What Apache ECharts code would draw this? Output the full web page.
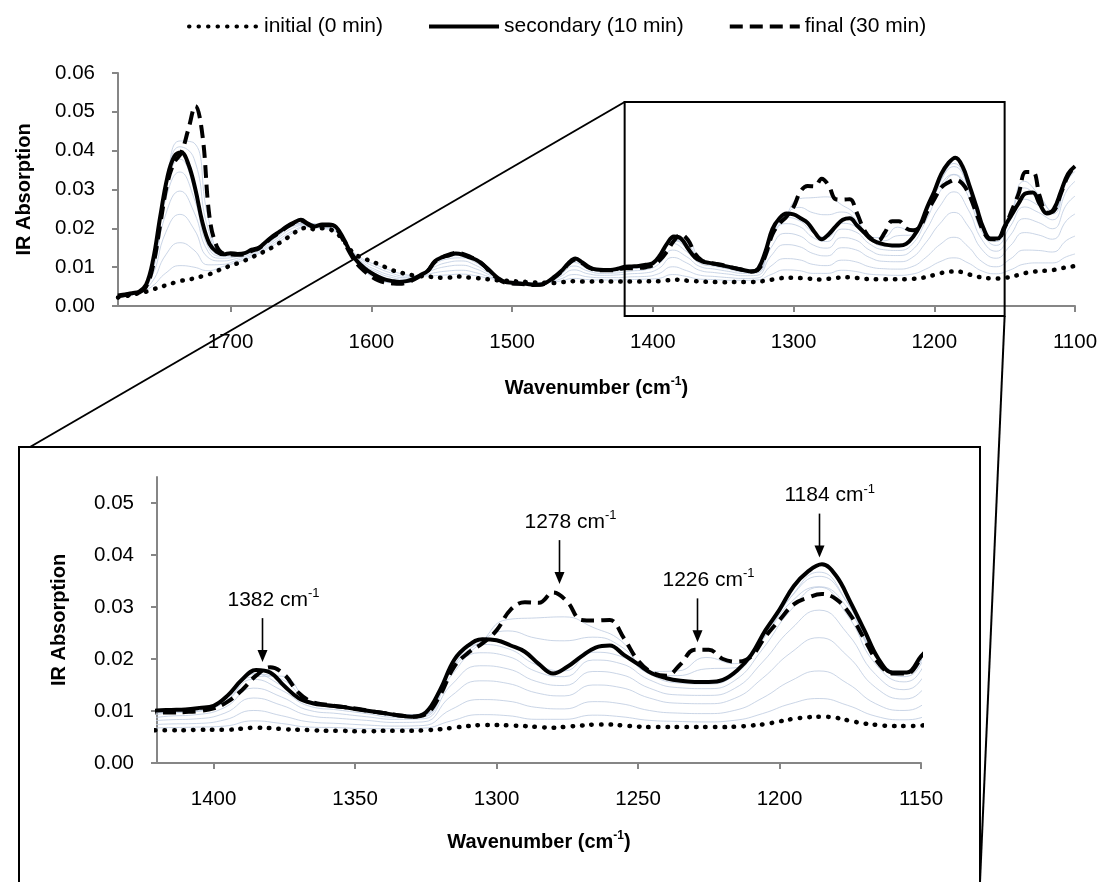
<!DOCTYPE html>
<html>
<head>
<meta charset="utf-8">
<title>IR spectra</title>
<script src="https://cdn.jsdelivr.net/npm/echarts@6/dist/echarts.min.js"></script>
<style>
  html, body { margin: 0; padding: 0; background: #fff; }
  #main { width: 1101px; height: 882px; }
</style>
</head>
<body>
<div id="main"></div>
<script>
// wavenumbers (cm-1) for the three main spectra
var wave = [1780,1775,1770,1765,1760,1755,1750,1745,1740,1735,1730,1725,1720,1715,1710,1705,1700,1695,1690,1685,
  1680,1675,1670,1665,1660,1655,1650,1645,1640,1635,1630,1625,1620,1615,1610,1605,1600,1595,1590,1585,
  1580,1575,1570,1565,1560,1555,1550,1545,1540,1535,1530,1525,1520,1515,1510,1505,1500,1495,1490,1485,
  1480,1475,1470,1465,1460,1455,1450,1445,1440,1435,1430,1425,1420,1415,1410,1405,1400,1395,1390,1385,
  1380,1375,1370,1365,1360,1355,1350,1345,1340,1335,1330,1325,1320,1315,1310,1305,1300,1295,1290,1285,
  1280,1275,1270,1265,1260,1255,1250,1245,1240,1235,1230,1225,1220,1215,1210,1205,1200,1195,1190,1185,
  1180,1175,1170,1165,1160,1155,1150,1145,1140,1135,1130,1125,1120,1115,1110,1105,1100];

var initial = [.0022,.0025,.0029,.0033,.0037,.0043,.0048,.0055,.0060,.0065,.0068,.0072,.0077,.0082,.0090,.0097,.0104,.0110,.0117,.0125,
  .0134,.0142,.0152,.0163,.0175,.0188,.0198,.0202,.0197,.0200,.0198,.0188,.0170,.0145,.0130,.0122,.0115,.0108,.0100,.0092,
  .0087,.0082,.0079,.0077,.0076,.0074,.0073,.0073,.0076,.0075,.0073,.0072,.0070,.0068,.0066,.0065,.0064,.0063,.0062,.0061,
  .0060,.0060,.0059,.0061,.0063,.0064,.0063,.0063,.0064,.0064,.0063,.0063,.0063,.0063,.0063,.0064,.0064,.0064,.0066,.0068,
  .0067,.0065,.0064,.0063,.0062,.0062,.0061,.0061,.0062,.0062,.0062,.0063,.0065,.0068,.0071,.0073,.0073,.0072,.0071,.0069,
  .0068,.0070,.0072,.0074,.0074,.0072,.0070,.0069,.0069,.0069,.0069,.0069,.0069,.0070,.0072,.0075,.0080,.0085,.0088,.0089,
  .0087,.0081,.0076,.0073,.0071,.0071,.0072,.0076,.0080,.0085,.0088,.0090,.0091,.0093,.0097,.0100,.0103];

var secondary = [.0027,.0030,.0033,.0037,.0055,.0120,.0230,.0330,.0385,.0395,.0365,.0300,.0215,.0160,.0140,.0133,.0136,.0134,.0136,.0145,
  .0150,.0165,.0180,.0192,.0205,.0215,.0222,.0212,.0205,.0210,.0210,.0203,.0175,.0140,.0115,.0098,.0085,.0075,.0068,.0064,
  .0062,.0064,.0070,.0080,.0090,.0115,.0125,.0130,.0135,.0132,.0125,.0118,.0105,.0088,.0072,.0062,.0060,.0058,.0057,.0055,
  .0055,.0062,.0075,.0090,.0110,.0122,.0112,.0100,.0094,.0093,.0093,.0096,.0101,.0102,.0103,.0106,.0110,.0130,.0160,.0179,
  .0174,.0148,.0125,.0115,.0111,.0108,.0104,.0100,.0096,.0092,.0089,.0097,.0140,.0198,.0226,.0238,.0236,.0226,.0214,.0190,
  .0172,.0185,.0205,.0222,.0226,.0208,.0190,.0172,.0163,.0158,.0156,.0156,.0160,.0178,.0208,.0255,.0295,.0340,.0368,.0382,
  .0360,.0310,.0255,.0200,.0174,.0174,.0205,.0235,.0265,.0290,.0292,.0262,.0238,.0250,.0295,.0340,.0360];

var final = [.0025,.0028,.0031,.0035,.0050,.0105,.0210,.0315,.0370,.0395,.0455,.0515,.0440,.0230,.0155,.0135,.0133,.0132,.0133,.0142,
  .0148,.0163,.0178,.0190,.0203,.0213,.0220,.0210,.0203,.0208,.0208,.0200,.0170,.0135,.0108,.0090,.0076,.0066,.0060,.0058,
  .0057,.0060,.0068,.0078,.0090,.0113,.0125,.0132,.0137,.0134,.0127,.0118,.0104,.0085,.0070,.0060,.0058,.0057,.0056,.0054,
  .0055,.0060,.0073,.0088,.0108,.0120,.0110,.0098,.0093,.0092,.0092,.0094,.0097,.0097,.0098,.0100,.0105,.0118,.0140,.0168,
  .0184,.0170,.0135,.0117,.0112,.0108,.0105,.0100,.0096,.0092,.0089,.0094,.0130,.0185,.0212,.0230,.0255,.0295,.0309,.0308,
  .0328,.0310,.0275,.0274,.0275,.0240,.0197,.0174,.0168,.0190,.0218,.0218,.0200,.0195,.0205,.0243,.0275,.0305,.0318,.0325,
  .0315,.0285,.0238,.0192,.0172,.0172,.0202,.0245,.0290,.0345,.0345,.0282,.0240,.0245,.0290,.0335,.0360];

// wavenumbers for the intermediate (thin) spectra
var waveThin = [1780,1766,1756,1746,1736,1726,1716,1706,1696,1686,1676,1666,1656,1646,1636,1626,1616,1606,1596,1586,
  1576,1566,1556,1546,1536,1526,1516,1506,1496,1486,1476,1466,1456,1446,1436,1426,1416,1406,1396,1386,
  1376,1366,1356,1346,1336,1326,1316,1306,1296,1286,1276,1266,1256,1246,1236,1226,1216,1206,1196,1186,
  1176,1166,1156,1146,1136,1126,1116,1106,1100];

var mid1 = [.0023,.0032,.0050,.0085,.0104,.0100,.0091,.0101,.0112,.0125,.0143,.0164,.0188,.0203,.0200,.0192,.0150,.0121,.0105,.0091,
  .0081,.0077,.0078,.0080,.0082,.0078,.0071,.0065,.0062,.0060,.0060,.0064,.0071,.0068,.0067,.0067,.0068,.0069,.0071,.0081,
  .0076,.0069,.0068,.0066,.0066,.0067,.0081,.0093,.0091,.0084,.0084,.0092,.0089,.0082,.0080,.0079,.0082,.0095,.0114,.0124,
  .0111,.0090,.0083,.0093,.0108,.0111,.0111,.0127,.0134];
var mid2 = [.0024,.0033,.0061,.0132,.0163,.0144,.0106,.0107,.0117,.0129,.0147,.0170,.0193,.0205,.0202,.0195,.0149,.0117,.0099,.0085,
  .0077,.0077,.0085,.0090,.0092,.0086,.0075,.0065,.0062,.0059,.0060,.0069,.0081,.0075,.0073,.0073,.0075,.0076,.0083,.0101,
  .0091,.0079,.0076,.0073,.0071,.0072,.0103,.0122,.0119,.0107,.0104,.0118,.0114,.0101,.0096,.0095,.0101,.0125,.0158,.0177,
  .0153,.0114,.0101,.0121,.0144,.0143,.0139,.0169,.0180];
var mid3 = [.0025,.0034,.0075,.0190,.0236,.0198,.0125,.0116,.0122,.0133,.0151,.0176,.0200,.0208,.0204,.0198,.0148,.0112,.0092,.0079,
  .0073,.0078,.0093,.0102,.0105,.0096,.0080,.0064,.0060,.0058,.0060,.0075,.0093,.0083,.0079,.0080,.0083,.0085,.0096,.0125,
  .0111,.0091,.0086,.0082,.0078,.0079,.0129,.0158,.0153,.0135,.0129,.0150,.0145,.0125,.0115,.0114,.0124,.0163,.0212,.0241,
  .0206,.0145,.0123,.0155,.0189,.0183,.0172,.0220,.0237];
var mid4 = [.0026,.0035,.0086,.0237,.0296,.0242,.0140,.0123,.0127,.0137,.0155,.0181,.0205,.0210,.0206,.0201,.0148,.0108,.0087,.0074,
  .0069,.0078,.0099,.0112,.0116,.0105,.0084,.0064,.0060,.0057,.0060,.0079,.0103,.0090,.0084,.0085,.0090,.0093,.0107,.0144,
  .0127,.0101,.0095,.0089,.0084,.0085,.0150,.0187,.0181,.0157,.0149,.0176,.0170,.0144,.0131,.0130,.0143,.0194,.0257,.0294,
  .0249,.0170,.0141,.0182,.0225,.0215,.0199,.0261,.0283];
var mid5 = [.0026,.0035,.0096,.0276,.0345,.0278,.0152,.0128,.0130,.0140,.0159,.0186,.0209,.0212,.0208,.0203,.0147,.0104,.0082,.0069,
  .0066,.0078,.0105,.0121,.0124,.0112,.0088,.0064,.0059,.0056,.0060,.0083,.0112,.0096,.0089,.0090,.0096,.0099,.0117,.0161,
  .0140,.0109,.0102,.0095,.0088,.0089,.0168,.0212,.0205,.0176,.0166,.0198,.0191,.0160,.0145,.0143,.0158,.0219,.0294,.0338,
  .0284,.0190,.0156,.0205,.0255,.0241,.0222,.0296,.0321];
var mid6 = [.0027,.0036,.0102,.0302,.0378,.0303,.0161,.0132,.0133,.0142,.0161,.0189,.0212,.0213,.0209,.0204,.0147,.0102,.0079,.0066,
  .0064,.0078,.0108,.0126,.0130,.0117,.0090,.0064,.0058,.0055,.0060,.0086,.0117,.0100,.0092,.0093,.0100,.0103,.0123,.0172,
  .0149,.0114,.0107,.0099,.0091,.0092,.0180,.0228,.0220,.0189,.0177,.0213,.0205,.0171,.0154,.0152,.0169,.0236,.0319,.0367,
  .0308,.0204,.0166,.0220,.0275,.0259,.0237,.0319,.0347];
var mid7 = [.0026,.0035,.0101,.0307,.0410,.0380,.0199,.0135,.0133,.0142,.0161,.0189,.0212,.0213,.0208,.0203,.0145,.0098,.0073,.0062,
  .0061,.0077,.0109,.0130,.0133,.0119,.0090,.0063,.0058,.0055,.0060,.0086,.0119,.0101,.0093,.0095,.0100,.0103,.0122,.0171,
  .0161,.0118,.0109,.0101,.0093,.0094,.0182,.0232,.0254,.0240,.0235,.0242,.0224,.0176,.0168,.0181,.0183,.0242,.0319,.0359,
  .0308,.0207,.0171,.0232,.0304,.0279,.0244,.0329,.0360];
var mid8 = [.0026,.0035,.0098,.0300,.0425,.0420,.0229,.0136,.0133,.0142,.0161,.0189,.0212,.0213,.0208,.0202,.0143,.0095,.0070,.0060,
  .0060,.0076,.0108,.0131,.0134,.0120,.0089,.0062,.0057,.0054,.0059,.0085,.0118,.0100,.0092,.0094,.0098,.0100,.0118,.0166,
  .0167,.0119,.0109,.0101,.0093,.0093,.0178,.0229,.0276,.0279,.0281,.0261,.0235,.0176,.0177,.0203,.0191,.0239,.0309,.0339,
  .0298,.0204,.0172,.0235,.0321,.0288,.0243,.0327,.0360];

var seriesNames = ['initial (0 min)', 'secondary (10 min)', 'final (30 min)'];

// tick positions
var xTicksTop = [1700, 1600, 1500, 1400, 1300, 1200, 1100];
var xTicksInset = [1400, 1350, 1300, 1250, 1200, 1150];
var yTicksTop = [0, 0.01, 0.02, 0.03, 0.04, 0.05, 0.06];
var yTicksInset = [0, 0.01, 0.02, 0.03, 0.04, 0.05];

// peaks marked in the inset
var peakLabels = ['1382', '1278', '1226', '1184'];
var peakWave = [1383, 1278, 1229, 1186];
var peakTip = [0.0194, 0.0344, 0.0232, 0.0395];

var FONT = "'Liberation Sans', Arial, sans-serif";
var AXIS_GRAY = '#868686';

function pairs(xs, ys) {
  return xs.map(function (x, i) { return [x, ys[i]]; });
}

function makeX(idx, min, max, ticks, gap) {
  return {
    type: 'value', gridIndex: idx, inverse: true, min: min, max: max,
    name: 'Wavenumber (cm{s|-1})', nameLocation: 'middle', nameGap: gap,
    nameTextStyle: {
      fontFamily: FONT, fontSize: 20, fontWeight: 'bold', color: '#000', lineHeight: 24,
      rich: { s: { fontFamily: FONT, fontSize: 12, fontWeight: 'bold', color: '#000', lineHeight: 12, verticalAlign: 'top' } }
    },
    axisLine: { show: true, lineStyle: { color: AXIS_GRAY, width: 2 } },
    axisTick: { show: true, length: 6, customValues: ticks, lineStyle: { color: AXIS_GRAY, width: 2 } },
    axisLabel: { fontFamily: FONT, fontSize: 20.5, color: '#000', margin: 26, customValues: ticks,
      formatter: function (v) { return String(v); } },
    splitLine: { show: false }
  };
}

function makeY(idx, max, ticks, gap) {
  return {
    type: 'value', gridIndex: idx, min: 0, max: max,
    name: 'IR Absorption', nameLocation: 'middle', nameGap: gap,
    nameTextStyle: { fontFamily: FONT, fontSize: 20, fontWeight: 'bold', color: '#000' },
    axisLine: { show: true, lineStyle: { color: AXIS_GRAY, width: 2 } },
    axisTick: { show: true, length: 6, customValues: ticks, lineStyle: { color: AXIS_GRAY, width: 2 } },
    axisLabel: { fontFamily: FONT, fontSize: 20.5, color: '#000', margin: 23, customValues: ticks,
      formatter: function (v) { return v.toFixed(2); } },
    splitLine: { show: false }
  };
}

var thinSets = [mid1, mid2, mid3, mid4, mid5, mid6, mid7, mid8];
var series = [];
[0, 1].forEach(function (g) {
  thinSets.forEach(function (arr, k) {
    series.push({
      name: 'mid' + (k + 1), type: 'line', xAxisIndex: g, yAxisIndex: g,
      data: pairs(waveThin, arr), symbol: 'none', smooth: 0.5, silent: true, z: 1,
      lineStyle: { color: '#bccadf', width: 0.8 }
    });
  });
  series.push({
    name: seriesNames[0], type: 'line', xAxisIndex: g, yAxisIndex: g,
    data: pairs(wave, initial), symbol: 'none', smooth: 0.4, z: 3,
    itemStyle: { color: '#000' },
    lineStyle: { color: '#000', width: 4.5, type: [0.5, 9], cap: 'round' }
  });
  series.push({
    name: seriesNames[1], type: 'line', xAxisIndex: g, yAxisIndex: g,
    data: pairs(wave, secondary), symbol: 'none', smooth: 0.4, z: 4,
    itemStyle: { color: '#000' },
    lineStyle: { color: '#000', width: 4 }
  });
  series.push({
    name: seriesNames[2], type: 'line', xAxisIndex: g, yAxisIndex: g,
    data: pairs(wave, final), symbol: 'none', smooth: 0.4, z: 5,
    itemStyle: { color: '#000' },
    lineStyle: { color: '#000', width: 4, type: [13, 7] }
  });
});

var myChart = echarts.init(document.getElementById('main'), null, { renderer: 'canvas' });

var option = {
  animation: false,
  backgroundColor: '#fff',
  legend: {
    data: seriesNames, left: 182, top: 11,
    itemWidth: 70, itemHeight: 14, itemGap: 44,
    itemStyle: { opacity: 0 },
    lineStyle: { width: 4 },
    textStyle: { fontFamily: FONT, fontSize: 21, color: '#000' }
  },
  grid: [
    { left: 118, top: 73, width: 957, height: 233 },
    { left: 157, top: 477, width: 764, height: 286 }
  ],
  xAxis: [makeX(0, 1100, 1780, xTicksTop, 70), makeX(1, 1150, 1420, xTicksInset, 67)],
  yAxis: [makeY(0, 0.06, yTicksTop, 84), makeY(1, 0.055, yTicksInset, 88)],
  series: series
};
myChart.setOption(option);

// zoom box, leader lines and peak arrows
var g = [];
var bl = myChart.convertToPixel({ gridIndex: 0 }, [1420, 0])[0];
var br = myChart.convertToPixel({ gridIndex: 0 }, [1150, 0])[0];
g.push({ type: 'rect', z: 100, shape: { x: bl, y: 102, width: br - bl, height: 214 },
  style: { stroke: '#000', lineWidth: 2, fill: 'none' } });
g.push({ type: 'rect', z: 100, shape: { x: 19, y: 447, width: 961, height: 450 },
  style: { stroke: '#000', lineWidth: 2, fill: 'none' } });
g.push({ type: 'line', z: 100, shape: { x1: bl, y1: 102, x2: 30, y2: 447 },
  style: { stroke: '#000', lineWidth: 2 } });
g.push({ type: 'line', z: 100, shape: { x1: br, y1: 316, x2: 980, y2: 882 },
  style: { stroke: '#000', lineWidth: 2 } });

for (var i = 0; i < peakLabels.length; i++) {
  var tip = myChart.convertToPixel({ gridIndex: 1 }, [peakWave[i], peakTip[i]]);
  var ax = Math.round(tip[0]) + 0.5;
  var arrowTop = tip[1] - 44;
  g.push({ type: 'line', z: 100, shape: { x1: ax, y1: arrowTop, x2: ax, y2: tip[1] - 10 },
    style: { stroke: '#000', lineWidth: 1.6 } });
  g.push({ type: 'polygon', z: 100,
    shape: { points: [[ax - 5, tip[1] - 12], [ax + 5, tip[1] - 12], [ax, tip[1]]] },
    style: { fill: '#000' } });
  g.push({ type: 'text', z: 100,
    style: {
      text: '{n|' + peakLabels[i] + ' cm}{s|-1}', x: ax - 35, y: arrowTop - 18,
      align: 'left', verticalAlign: 'middle',
      rich: {
        n: { fontFamily: FONT, fontSize: 21, lineHeight: 26, fill: '#000' },
        s: { fontFamily: FONT, fontSize: 13, lineHeight: 13, fill: '#000', verticalAlign: 'top' }
      }
    } });
}
myChart.setOption({ graphic: g });
</script>
</body>
</html>
